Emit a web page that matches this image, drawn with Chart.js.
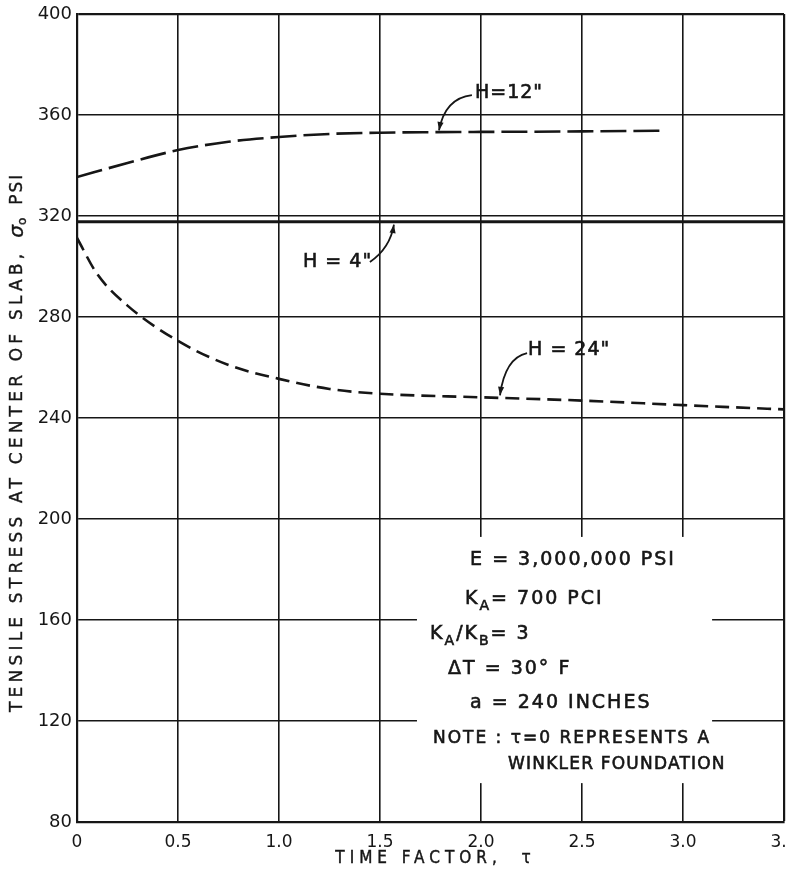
<!DOCTYPE html>
<html lang="en">
<head>
<meta charset="UTF-8">
<title>Tensile stress at center of slab vs time factor</title>
<script src="https://cdn.jsdelivr.net/npm/chart.js"></script>
<style>
  html, body { margin: 0; padding: 0; background: #fff; }
  #wrap { width: 788px; height: 883px; }
</style>
</head>
<body>
<div id="wrap"><canvas id="stressChart" width="788" height="883"></canvas></div>
<script>
  // values: time factor tau vs stress (psi)
  const tau12 = [0, 0.25, 0.5, 0.75, 1.0, 1.25, 1.5, 1.75, 2.0, 2.5, 2.9];
  const stress12 = [335.4, 341.0, 346.1, 349.4, 351.3, 352.5, 353.0, 353.2, 353.3, 353.5, 353.8];

  const tau4 = [0, 3.5];
  const stress4 = [317.7, 317.7];

  const tau24 = [0, 0.1, 0.25, 0.5, 0.75, 1.0, 1.25, 1.5, 2.0, 2.5, 3.0, 3.5];
  const stress24 = [311.3, 297.0, 284.5, 270.5, 261.0, 255.5, 251.5, 249.6, 248.2, 246.9, 245.1, 243.4];

  const xTicks = [0, 0.5, 1.0, 1.5, 2.0, 2.5, 3.0, 3.5];
  const xTickLabels = ['0', '0.5', '1.0', '1.5', '2.0', '2.5', '3.0', '3.5'];
  const yTicks = [80, 120, 160, 200, 240, 280, 320, 360, 400];

  const curveLabels = ['H=12"', 'H = 4"', 'H = 24"'];

  const INK = '#161616';
  const FONT = '"DejaVu Sans", "Liberation Sans", sans-serif';
  const FONT_NARROW = '"DejaVu Sans Condensed", "DejaVu Sans", sans-serif';

  const toPoints = (xs, ys) => xs.map((x, i) => ({ x: x, y: ys[i] }));

  // label callouts (data units): text left/middle, arrow start, control, end
  const callouts = [
    { text: curveLabels[0], at: [1.97, 368.5], arrow: [[1.955, 367.9], [1.822, 366.7], [1.792, 353.9]] },
    { text: curveLabels[1], at: [1.119, 301.6], arrow: [[1.45, 301.8], [1.55, 307.3], [1.569, 316.6]] },
    { text: curveLabels[2], at: [2.233, 267.1], arrow: [[2.228, 265.7], [2.119, 263.8], [2.094, 249.0]] }
  ];

  // note block; runs: n = normal, s = subscript
  const noteLines = [
    { at: [1.946, 183.8], size: 19, sp: 2, runs: [['E = 3,000,000 PSI', 'n']] },
    { at: [1.921, 168.3], size: 19, sp: 2, runs: [['K', 'n'], ['A', 's'], ['= 700 PCI', 'n']] },
    { at: [1.748, 154.5], size: 19, sp: 2, runs: [['K', 'n'], ['A', 's'], ['/K', 'n'], ['B', 's'], ['= 3', 'n']] },
    { at: [1.837, 140.4], size: 19, sp: 2, runs: [['\u0394T = 30\u00b0 F', 'n']] },
    { at: [1.946, 127.3], size: 19, sp: 2, runs: [['a = 240 INCHES', 'n']] },
    { at: [1.762, 113.1], size: 17, sp: 2, runs: [['NOTE : \u03c4=0 REPRESENTS A', 'n']] },
    { at: [2.134, 102.6], size: 17, sp: 1.2, runs: [['WINKLER FOUNDATION', 'n']] }
  ];
  const notePanel = [1.683, 192.9, 3.144, 95.4];

  function inkText(ctx, s, x, y) {
    ctx.fillText(s, x, y);
    ctx.strokeText(s, x, y);
  }

  function drawRuns(ctx, runs, x, y, size) {
    runs.forEach(r => {
      const sub = r[1] === 's';
      ctx.font = (sub ? Math.round(size * 0.72) : size) + 'px ' + FONT;
      inkText(ctx, r[0], x, sub ? y + size * 0.38 : y);
      x += ctx.measureText(r[0]).width;
    });
  }

  function arrowHead(ctx, from, to, len) {
    const a = Math.atan2(to[1] - from[1], to[0] - from[0]);
    ctx.beginPath();
    ctx.moveTo(to[0], to[1]);
    ctx.lineTo(to[0] - len * Math.cos(a - 0.35), to[1] - len * Math.sin(a - 0.35));
    ctx.lineTo(to[0] - len * Math.cos(a + 0.35), to[1] - len * Math.sin(a + 0.35));
    ctx.closePath();
    ctx.fill();
  }

  const overlay = {
    id: 'overlay',
    afterDatasetsDraw(chart) {
      const ctx = chart.ctx;
      const px = v => chart.scales.x.getPixelForValue(v);
      const py = v => chart.scales.y.getPixelForValue(v);
      ctx.save();

      // blank panel behind the notes
      ctx.fillStyle = '#fff';
      ctx.fillRect(px(notePanel[0]), py(notePanel[1]),
        px(notePanel[2]) - px(notePanel[0]), py(notePanel[3]) - py(notePanel[1]));

      ctx.fillStyle = INK;
      ctx.strokeStyle = INK;
      ctx.lineWidth = 0.6;
      ctx.textBaseline = 'middle';
      ctx.textAlign = 'left';
      noteLines.forEach(l => {
        ctx.letterSpacing = l.sp + 'px';
        drawRuns(ctx, l.runs, px(l.at[0]), py(l.at[1]), l.size);
      });

      ctx.letterSpacing = '1px';
      callouts.forEach(c => {
        ctx.font = '19px ' + FONT;
        ctx.lineWidth = 0.6;
        inkText(ctx, c.text, px(c.at[0]), py(c.at[1]));
        const p = c.arrow.map(q => [px(q[0]), py(q[1])]);
        ctx.lineWidth = 1.8;
        ctx.beginPath();
        ctx.moveTo(p[0][0], p[0][1]);
        ctx.quadraticCurveTo(p[1][0], p[1][1], p[2][0], p[2][1]);
        ctx.stroke();
        arrowHead(ctx, p[1], p[2], 9);
      });
      ctx.restore();
    },
    afterDraw(chart) {
      const ctx = chart.ctx;
      const area = chart.chartArea;
      ctx.save();
      ctx.fillStyle = INK;
      ctx.strokeStyle = INK;
      ctx.lineWidth = 0.4;
      ctx.textBaseline = 'middle';

      // x axis title
      ctx.font = '17px ' + FONT_NARROW;
      ctx.letterSpacing = '5px';
      ctx.textAlign = 'center';
      inkText(ctx, 'TIME FACTOR,  \u03c4', (area.left + area.right) / 2 + 5, 859);

      // y axis title, rotated, drawn bottom to top
      ctx.translate(18, 712);
      ctx.rotate(-Math.PI / 2);
      ctx.textAlign = 'left';
      ctx.font = '17px ' + FONT;
      ctx.letterSpacing = '4.2px';
      let x = 0;
      const main = 'TENSILE STRESS AT CENTER OF SLAB,';
      inkText(ctx, main, x, 0);
      x += ctx.measureText(main).width + 12;
      ctx.letterSpacing = '0px';
      ctx.font = 'italic 20px ' + FONT;
      inkText(ctx, '\u03c3', x, 0);
      x += ctx.measureText('\u03c3').width;
      ctx.font = '12px ' + FONT;
      inkText(ctx, 'o', x, 5);
      x += ctx.measureText('o').width + 13;
      ctx.font = '17px ' + FONT;
      ctx.letterSpacing = '2px';
      inkText(ctx, 'PSI', x, 0);
      ctx.restore();
    }
  };

  const ctx = document.getElementById('stressChart').getContext('2d');
  new Chart(ctx, {
    type: 'scatter',
    data: {
      datasets: [
        {
          label: curveLabels[0],
          data: toPoints(tau12, stress12),
          showLine: true,
          borderColor: INK,
          borderWidth: 2.6,
          borderDash: [26, 7],
          pointRadius: 0,
          cubicInterpolationMode: 'monotone'
        },
        {
          label: curveLabels[1],
          data: toPoints(tau4, stress4),
          showLine: true,
          borderColor: INK,
          borderWidth: 3,
          pointRadius: 0
        },
        {
          label: curveLabels[2],
          data: toPoints(tau24, stress24),
          showLine: true,
          borderColor: INK,
          borderWidth: 2.6,
          borderDash: [14, 7],
          pointRadius: 0,
          cubicInterpolationMode: 'monotone'
        }
      ]
    },
    options: {
      responsive: false,
      animation: false,
      devicePixelRatio: 1,
      layout: { padding: { top: 14, right: 4, left: 0, bottom: 0 } },
      plugins: {
        legend: { display: false },
        tooltip: { enabled: false }
      },
      scales: {
        x: {
          type: 'linear',
          min: xTicks[0],
          max: xTicks[xTicks.length - 1],
          afterBuildTicks: s => { s.ticks = xTicks.map(v => ({ value: v })); },
          afterFit: s => { s.height = 61; s.paddingLeft = 0; s.paddingRight = 0; },
          ticks: {
            callback: v => xTickLabels[xTicks.indexOf(v)],
            color: INK,
            font: { family: FONT, size: 17 },
            padding: 10,
            maxRotation: 0,
            autoSkip: false
          },
          grid: {
            color: INK,
            lineWidth: c => (c.tick && c.tick.value === 3.5 ? 2.2 : 1.6),
            drawTicks: false
          },
          border: { display: true, color: INK, width: 2.2 }
        },
        y: {
          min: yTicks[0],
          max: yTicks[yTicks.length - 1],
          afterBuildTicks: s => { s.ticks = yTicks.map(v => ({ value: v })); },
          afterFit: s => { s.width = 77; s.paddingTop = 0; s.paddingBottom = 0; },
          ticks: {
            color: INK,
            font: { family: FONT, size: 18 },
            padding: 5,
            autoSkip: false
          },
          grid: {
            color: INK,
            lineWidth: c => (c.tick && c.tick.value === 400 ? 2.2 : 1.6),
            drawTicks: false
          },
          border: { display: true, color: INK, width: 2.2 }
        }
      }
    },
    plugins: [overlay]
  });
</script>
</body>
</html>
